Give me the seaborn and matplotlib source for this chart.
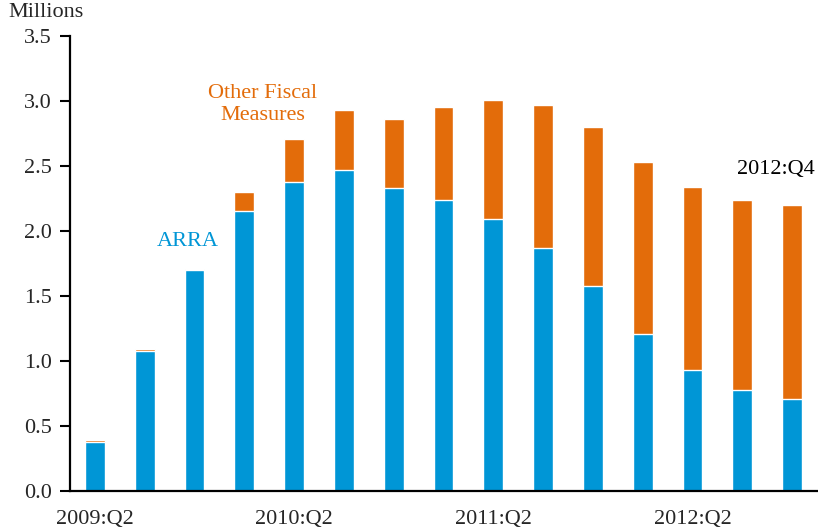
import pandas as pd
import matplotlib.pyplot as plt
import seaborn as sns

# Data (millions of jobs)
quarters = [
    "2009:Q2", "2009:Q3", "2009:Q4",
    "2010:Q1", "2010:Q2", "2010:Q3", "2010:Q4",
    "2011:Q1", "2011:Q2", "2011:Q3", "2011:Q4",
    "2012:Q1", "2012:Q2", "2012:Q3", "2012:Q4",
]
arra = [0.38, 1.08, 1.70, 2.15, 2.38, 2.47, 2.33, 2.24,
        2.09, 1.87, 1.58, 1.21, 0.93, 0.78, 0.71]
other_fiscal = [0.01, 0.01, 0.01, 0.15, 0.33, 0.46, 0.53, 0.71,
                0.92, 1.10, 1.22, 1.32, 1.41, 1.46, 1.49]
shown_ticks = ["2009:Q2", "2010:Q2", "2011:Q2", "2012:Q2"]

blue = "#0096d6"
orange = "#e36c0a"

df = pd.DataFrame({
    "quarter": quarters,
    "arra": arra,
    "other": other_fiscal,
})
df["total"] = df["arra"] + df["other"]

sns.set_style("white")
plt.rcParams["font.family"] = ["Liberation Serif", "DejaVu Serif"]

fig = plt.figure(figsize=(8.18, 5.28), dpi=100)
ax = fig.add_axes([0.0856, 0.07, 0.9144, 0.862])

# Stacked bars: total in orange, ARRA drawn over it
sns.barplot(data=df, x="quarter", y="total", order=quarters,
            color=orange, width=0.4, saturation=1, ax=ax)
sns.barplot(data=df, x="quarter", y="arra", order=quarters,
            color=blue, width=0.4, saturation=1, ax=ax)

ax.set_ylim(0, 3.5)
ax.set_xlim(-0.5, 14.52)
ax.set_yticks([0, 0.5, 1.0, 1.5, 2.0, 2.5, 3.0, 3.5])
ax.set_yticklabels([f"{v:.1f}" for v in ax.get_yticks()], fontsize=16)

ax.set_xticks([quarters.index(q) for q in shown_ticks])
ax.set_xticklabels(shown_ticks, fontsize=16)

ax.set_xlabel("")
ax.set_ylabel("")

ax.tick_params(axis="x", length=0, pad=14)
ax.tick_params(axis="y", direction="out", length=7, width=1.5,
               color="black", pad=6, left=True)

for side in ["top", "right"]:
    ax.spines[side].set_visible(False)
for side in ["left", "bottom"]:
    ax.spines[side].set_color("black")
    ax.spines[side].set_linewidth(1.6)

# Annotations
ax.text(1.87, 1.92, "ARRA", color=blue, fontsize=16,
        ha="center", va="center")
ax.text(3.37, 2.97, "Other Fiscal\nMeasures", color=orange, fontsize=16,
        ha="center", va="center", linespacing=1.2)
ax.text(13.67, 2.47, "2012:Q4", color="black", fontsize=16,
        ha="center", va="center")

fig.text(0.01, 0.995, "Millions", fontsize=16, ha="left", va="top")

plt.savefig("out.png", dpi=100)
plt.close()
